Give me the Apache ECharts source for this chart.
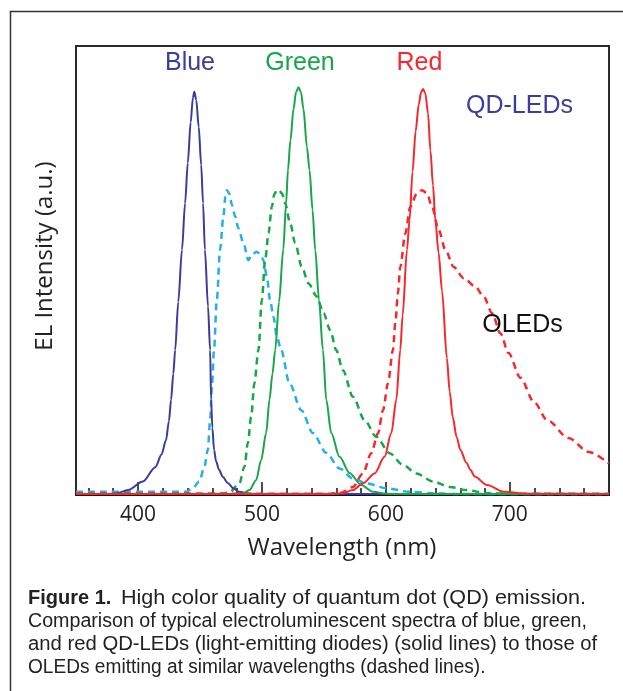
<!DOCTYPE html>
<html>
<head>
<meta charset="utf-8">
<script src="https://cdn.jsdelivr.net/npm/echarts@6.0.0/dist/echarts.min.js"></script>
<style>
html,body{margin:0;padding:0;background:#fff;}
#chart{width:623px;height:691px;}
</style>
</head>
<body>
<div id="chart"></div>
<script>
// ---- data (wavelength nm, EL intensity a.u.) ----
var majorTicks = [400, 500, 600, 700];
var minorTicks = [360, 380, 400, 420, 440, 460, 480, 500, 520, 540, 560, 580, 600, 620, 640, 660, 680, 700, 720, 740, 760];

var blueQD = [[350,0.002],[370,0.002],[382,0.003],[392,0.011],[404,0.030],[414,0.062],[419,0.09],[422.6,0.122],[425,0.165],[426.7,0.212],[428.5,0.27],[430,0.323],[432.5,0.43],[435.5,0.546],[438,0.65],[440.2,0.74],[442.5,0.83],[444.3,0.885],[445.5,0.898],[447,0.88],[449,0.82],[451,0.735],[452.5,0.65],[454,0.546],[456.5,0.42],[458.2,0.323],[459,0.212],[460,0.15],[461.4,0.10],[463,0.075],[465.4,0.056],[468.5,0.04],[472.4,0.027],[477,0.015],[481.6,0.007],[490,0.003],[500,0.002],[780,0.002]];

var greenQD = [[350,0.002],[470,0.002],[484.6,0.003],[489.9,0.011],[495.3,0.033],[499.4,0.078],[503.4,0.138],[506.1,0.212],[508.5,0.27],[510.7,0.323],[513.8,0.43],[517.2,0.546],[519.5,0.65],[521,0.724],[523,0.79],[525.5,0.86],[527.5,0.897],[529.5,0.908],[531.5,0.897],[533.5,0.86],[536.3,0.775],[538.4,0.724],[540.8,0.635],[543,0.546],[546,0.435],[549.2,0.323],[551.9,0.212],[555.9,0.138],[562.6,0.085],[570.7,0.049],[580.1,0.022],[589.6,0.007],[600.3,0.003],[620,0.002],[780,0.002]];

var redQD = [[350,0.002],[550,0.002],[565.3,0.004],[573.4,0.011],[581.5,0.026],[590.9,0.048],[598.9,0.085],[604.4,0.138],[608.4,0.212],[611.6,0.323],[613.5,0.4],[617,0.546],[619.1,0.612],[621.5,0.72],[624,0.81],[626.5,0.87],[628.5,0.898],[630,0.904],[631.8,0.895],[634,0.85],[635.9,0.768],[638,0.69],[639.9,0.612],[642.5,0.54],[645.3,0.455],[649.2,0.305],[651.5,0.23],[653.9,0.174],[657,0.13],[660.1,0.100],[665,0.072],[668.2,0.056],[671.6,0.041],[681.7,0.022],[695.1,0.007],[714,0.003],[780,0.002]];

var blueOLED = [[350,0.007],[438.8,0.007],[444.2,0.015],[449.5,0.030],[453.6,0.063],[456.3,0.100],[458.4,0.174],[459.8,0.249],[461.3,0.323],[463.6,0.434],[466.2,0.546],[468.9,0.620],[470.5,0.665],[471.8,0.679],[473.5,0.672],[476,0.645],[478.4,0.620],[481,0.594],[485.1,0.561],[489.1,0.523],[491.8,0.535],[495.9,0.542],[499,0.535],[501.2,0.523],[504,0.486],[506.6,0.434],[509.3,0.397],[512,0.353],[515.5,0.323],[522.2,0.249],[531.7,0.189],[541.1,0.138],[551.9,0.094],[562.6,0.059],[573.4,0.037],[584.2,0.026],[600.3,0.015],[619.1,0.007],[638,0.004],[659.5,0.002],[780,0.002]];

var greenOLED = [[350,0.003],[465,0.003],[473.7,0.005],[481.8,0.026],[485.9,0.063],[488.6,0.115],[491.3,0.174],[493.9,0.249],[497.2,0.323],[499.9,0.434],[502.6,0.523],[505.3,0.583],[508,0.642],[510,0.67],[512,0.679],[514,0.678],[516.1,0.672],[518.7,0.650],[522.8,0.605],[526.8,0.561],[532.2,0.508],[537.6,0.471],[544.3,0.442],[549.7,0.405],[555.1,0.367],[559.9,0.323],[565.3,0.278],[573.4,0.219],[582.8,0.167],[592.2,0.130],[603,0.093],[613.8,0.067],[624.6,0.048],[638,0.030],[651.5,0.018],[664.9,0.011],[681.7,0.004],[700,0.003],[780,0.003]];

var redOLED = [[350,0.003],[555,0.003],[564,0.005],[573.4,0.018],[581.5,0.048],[588.2,0.093],[593.6,0.137],[597.7,0.189],[601.7,0.249],[605.7,0.323],[607.8,0.39],[609.7,0.45],[611.6,0.508],[615.7,0.583],[619.7,0.642],[625.1,0.672],[629.2,0.679],[633.2,0.672],[637.2,0.642],[642.6,0.590],[648,0.546],[654.7,0.508],[662.8,0.483],[672.2,0.464],[678.9,0.442],[685.7,0.405],[692.4,0.360],[698.9,0.316],[708.6,0.261],[719.3,0.208],[730.1,0.167],[747.3,0.127],[763.5,0.096],[780,0.070]];

var captionLabel = 'Figure 1.';
var captionLines = [
  'High color quality of quantum dot (QD) emission.',
  'Comparison of typical electroluminescent spectra of blue, green,',
  'and red QD-LEDs (light-emitting diodes) (solid lines) to those of',
  'OLEDs emitting at similar wavelengths (dashed lines).'
];

// ---- styling ----
var C_BLUE = '#3b3c9c', C_GREEN = '#18a64a', C_RED = '#f7282c', C_CYAN = '#22b0e6';
var AXIS_FONT = '"Open Sans", "DejaVu Sans", sans-serif';
var TEXT_FONT = '"Liberation Sans", Arial, sans-serif';

function solid(name, data, color) {
  return { name: name, type: 'line', data: data, showSymbol: false, smooth: 0.3, smoothMonotone: 'x',
    lineStyle: { color: color, width: 2 }, z: 3, silent: true };
}
function dashed(name, data, color) {
  return { name: name, type: 'line', data: data, showSymbol: false, smooth: 0.3, smoothMonotone: 'x',
    lineStyle: { color: color, width: 2.5, type: [7, 5] }, z: 2, silent: true };
}

var chart = echarts.init(document.getElementById('chart'), null, { renderer: 'canvas' });

var graphics = [
  { type: 'rect', shape: { x: 10.5, y: 11.5, width: 700, height: 800 }, style: { fill: 'none', stroke: '#333', lineWidth: 1.5 }, z: 0 },
  { type: 'text', x: 190, y: 63, style: { text: 'Blue', fill: C_BLUE, font: '25px ' + TEXT_FONT, align: 'center', verticalAlign: 'middle' } },
  { type: 'text', x: 300, y: 63, style: { text: 'Green', fill: C_GREEN, font: '25px ' + TEXT_FONT, align: 'center', verticalAlign: 'middle' } },
  { type: 'text', x: 419.5, y: 63, style: { text: 'Red', fill: C_RED, font: '25px ' + TEXT_FONT, align: 'center', verticalAlign: 'middle' } },
  { type: 'text', x: 519.5, y: 106, style: { text: 'QD-LEDs', fill: C_BLUE, font: '25px ' + TEXT_FONT, align: 'center', verticalAlign: 'middle' } },
  { type: 'text', x: 522.5, y: 325, style: { text: 'OLEDs', fill: '#111', font: '25px ' + TEXT_FONT, align: 'center', verticalAlign: 'middle' }, z: 10 },
  { type: 'text', x: 45, y: 256, rotation: Math.PI / 2, style: { text: 'EL Intensity (a.u.)', fill: '#222', font: '24px ' + AXIS_FONT, align: 'center', verticalAlign: 'middle' } },
  { type: 'text', x: 342, y: 548, style: { text: 'Wavelength (nm)', fill: '#222', font: '24px ' + AXIS_FONT, align: 'center', verticalAlign: 'middle' } },
  { type: 'text', x: 28, y: 598.5, style: { text: captionLabel, fill: '#222', font: 'bold 20px ' + TEXT_FONT, align: 'left', verticalAlign: 'middle' } }
];
var capX = [121, 28, 28, 28];
var capY = [598.5, 621.5, 644.5, 667.5];
var capScale = [1.078, 0.982, 1.014, 0.955];
captionLines.forEach(function (t, i) {
  graphics.push({ type: 'text', x: capX[i], y: capY[i], scaleX: capScale[i],
    style: { text: t, fill: '#222', font: '20px ' + TEXT_FONT, align: 'left', verticalAlign: 'middle' } });
});

chart.setOption({
  animation: false,
  backgroundColor: '#fff',
  grid: { left: 76, right: 14, top: 46, bottom: 196, show: true, borderColor: '#2a2a2a', borderWidth: 2, backgroundColor: 'transparent', outerBoundsMode: 'none' },
  xAxis: [
    { type: 'value', min: 350, max: 780, position: 'bottom',
      axisLine: { show: true, onZero: false, lineStyle: { color: '#111', width: 2 } },
      axisTick: { show: true, inside: true, length: 13, customValues: majorTicks, lineStyle: { color: '#111', width: 1.5 } },
      axisLabel: { show: true, customValues: majorTicks, margin: 10, color: '#222', fontSize: 21, fontFamily: AXIS_FONT },
      splitLine: { show: false } },
    { type: 'value', min: 350, max: 780, position: 'bottom', gridIndex: 0,
      axisLine: { show: false },
      axisTick: { show: true, inside: true, length: 7, customValues: minorTicks, lineStyle: { color: '#111', width: 1.5 } },
      axisLabel: { show: false },
      splitLine: { show: false } }
  ],
  yAxis: { type: 'value', min: 0, max: 1, axisLine: { show: false }, axisTick: { show: false }, axisLabel: { show: false }, splitLine: { show: false } },
  series: [
    dashed('Blue OLED', blueOLED, C_CYAN),
    dashed('Green OLED', greenOLED, C_GREEN),
    dashed('Red OLED', redOLED, C_RED),
    solid('Blue QD-LED', blueQD, C_BLUE),
    solid('Green QD-LED', greenQD, C_GREEN),
    solid('Red QD-LED', redQD, C_RED)
  ],
  graphic: graphics
});
</script>
</body>
</html>
